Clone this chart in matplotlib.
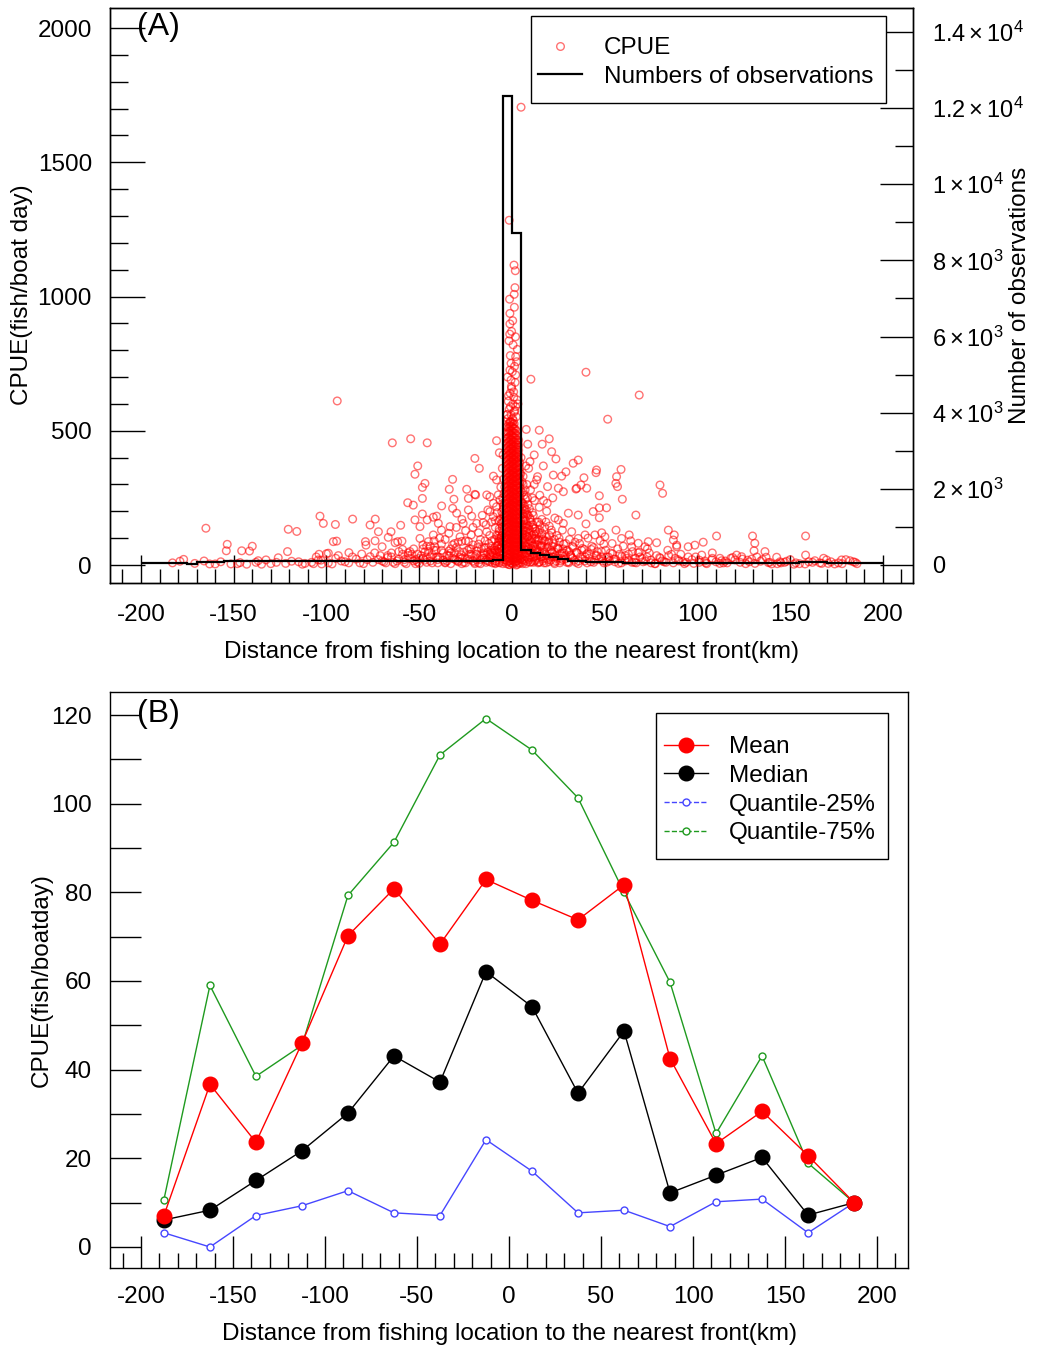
import numpy as np
import matplotlib
matplotlib.use('Agg')
import matplotlib.pyplot as plt
from matplotlib.lines import Line2D
from matplotlib.patches import Rectangle
from matplotlib.ticker import MultipleLocator, FixedLocator

plt.rcParams['font.family'] = ['Liberation Sans', 'DejaVu Sans']
plt.rcParams['mathtext.fontset'] = 'custom'
plt.rcParams['mathtext.rm'] = 'Liberation Sans'
plt.rcParams['mathtext.it'] = 'Liberation Sans:italic'
plt.rcParams['mathtext.bf'] = 'Liberation Sans:bold'
plt.rcParams['axes.unicode_minus'] = False

# ---------------- Panel A data ----------------
# scattered CPUE observations, left of the front
left_x = [-179, -177, -166, -165, -163, -160, -154, -153.5, -151.5, -146.6, -145.7, -143, -141.5, -140,
          -136.8, -132.6, -127, -126, -121, -120.6, -118.8, -116, -111.6, -105.5, -104.4, -104, -103.5,
          -102.6, -101.7, -100, -99, -96.3, -95.2, -94.5, -94.2, -93.6, -87.9, -85.9, -81, -79, -78.7,
          -76.5, -76.5, -73.8, -73.7, -72, -71, -70, -66.7, -65.2, -64.5, -63, -61.6, -60, -59.3, -56.2,
          -54.6, -53.2, -52.3, -52.3, -50.8, -49.6, -49.6, -48.3, -48.3, -48.3, -46.9, -45.7, -45.7,
          -45.1, -42.4, -42.4, -41.5, -40.6, -39.7, -37.9, -33.8, -33.4, -32, -32, -31.3, -29.8, -26.3,
          -24.4, -23.5, -23.5, -21.7, -20, -20, -19.6, -19, -17.6, -15.5, -13.6, -13.6, -11.9, -11.9,
          -10.1, -10, -8.3, -8.3, -8.3, -7.4, -6.8, -6.5]
left_y = [14, 21, 15, 137, 4, 4, 53, 77, 4, 9, 53, 3, 52, 70,
          16, 19, 10, 27, 50, 133, 14, 125, 6, 30, 19, 40, 182,
          4, 155, 42, 44, 87, 151, 89, 611, 35, 46, 171, 41, 87, 74,
          149, 31, 90, 171, 124, 35, 68, 103, 124, 455, 83, 87, 148, 89, 232,
          470, 223, 338, 168, 369, 143, 99, 289, 248, 190, 304, 455, 168,
          87, 178, 112, 68, 182, 155, 220, 282, 143, 319, 211, 245, 193, 155,
          282, 248, 205, 182, 397, 263, 261, 155, 360, 158, 124, 261, 199, 254,
          180, 331, 463, 317, 217, 261, 418, 242]

# low-CPUE cloud, left of the front
lowl_x = [-4.5, -4.5, -4.6, -4.4, -4.5, -4.7, -4.3, -5.5, -5.6, -5.4, -5.8, -5.5, -6.6, -6.8, -6.4, -6.9,
          -7.5, -7.8, -7.3, -8.6, -8.9, -9.5, -10.5, -11, -12, -13, -14.5, -15, -16.5, -18, -19, -21,
          -22.5, -24, -26, -27.5, -29, -31, -33, -35, -37, -39, -41, -43, -45, -47, -49, -51, -53, -55,
          -57, -59, -62, -65, -68, -72, -75, -80, -84, -88, -92, -97, -108, -113, -130, -135,
          -38, -36, -34, -30, -28, -27, -25, -22, -21, -18, -17, -16, -14, -13, -12, -11, -10, -9, -8,
          -7, -6, -5, -4.5, -44, -40, -33, -29, -25, -19, -15, -12, -9, -7, -56, -52, -48, -46, -42,
          -36, -31, -27, -23, -20, -17, -14, -11, -6, -5.2, -4.8]
lowl_y = [12, 45, 88, 130, 175, 220, 265, 25, 70, 110, 155, 198, 8, 50, 92, 135,
          30, 72, 110, 15, 55, 95, 35, 70, 12, 48, 90, 25, 60, 8, 40, 75,
          20, 55, 10, 38, 85, 22, 60, 15, 45, 100, 28, 8, 50, 18, 35, 12, 60, 25,
          5, 40, 15, 30, 8, 20, 10, 5, 22, 8, 15, 4, 10, 3, 5, 3,
          130, 95, 118, 140, 105, 170, 128, 112, 140, 120, 95, 185, 150, 205, 110, 160, 230, 140, 195,
          165, 290, 230, 320, 70, 30, 45, 15, 90, 20, 65, 40, 8, 60, 45, 20, 75, 30, 55,
          10, 80, 25, 60, 5, 35, 18, 48, 100, 360, 410]

# more low-CPUE observations (x, y) left of the front
wedge_left = [(-3.9, 20), (-4.0, 60), (-3.8, 100), (-4.1, 140), (-3.9, 185), (-4.0, 230), (-3.9, 290),
              (-4.9, 5), (-5.0, 40), (-4.8, 80), (-5.1, 120), (-4.9, 160), (-5.0, 250), (-6.0, 25),
              (-6.1, 65), (-5.9, 105), (-6.2, 170), (-7.1, 10), (-7.0, 48), (-7.2, 88), (-6.9, 125),
              (-8.2, 30), (-8.0, 70), (-8.3, 110), (-9.1, 15), (-9.3, 55), (-9.0, 165), (-10.6, 8),
              (-10.4, 45), (-11.8, 28), (-12.5, 80), (-13.9, 10), (-15.3, 38), (-17, 20), (-18.5, 65),
              (-20.3, 10), (-22, 40), (-23.5, 88), (-25.2, 25), (-27, 5), (-28.4, 50), (-30, 18),
              (-32, 75), (-34, 35), (-36, 8), (-38, 55), (-40, 20), (-42, 90), (-44, 30), (-46, 10),
              (-48, 60), (-50, 25), (-52, 5), (-54, 40), (-58, 20), (-61, 50), (-64, 10), (-67, 35),
              (-70, 15), (-74, 45), (-78, 20), (-82, 8), (-86, 30), (-90, 12), (-95, 25), (-99, 8),
              (-103, 18), (-107, 5), (-115, 12), (-122, 6), (-138, 10), (-148, 5), (-157, 12),
              (-171, 6), (-183, 8)]

band_left = [(-69, 12), (-67, 28), (-65, 45), (-63, 5), (-61, 22), (-59, 58), (-58, 10), (-56, 35),
             (-55, 50), (-53, 15), (-51, 40), (-50, 6), (-48, 25), (-47, 48), (-46, 70), (-44, 15),
             (-43, 38), (-41, 55), (-40, 8), (-39, 28), (-38, 78), (-37, 18), (-35, 35), (-34, 52),
             (-33, 5), (-32, 25), (-31, 45), (-30, 65), (-29, 12), (-28, 30), (-27, 88), (-26, 48),
             (-25, 8), (-24, 22), (-23, 40), (-22, 60), (-21, 15), (-20, 32), (-19, 52), (-18, 78),
             (-17, 5), (-16, 25), (-15, 45), (-14, 65), (-13, 15), (-12, 35), (-11.5, 55), (-11, 90),
             (-10.5, 20), (-10, 42), (-9.5, 62), (-9, 5), (-8.5, 28), (-8, 50), (-7.5, 75), (-7, 100),
             (-6.5, 18), (-6, 40), (-5.8, 60), (-5.5, 85), (-5.2, 140), (-4.9, 190), (-4.6, 210),
             (-4.3, 100), (-4.2, 165)]

# dense column of observations right at the front (-4..4.5 km)
core_x = [-3.0, -2.4, -1.8, -1.2, -0.6, 0.0, 0.6, 1.2, 1.8, 2.4, 3.0, 3.6, 4.2]
core_y = [
    [5, 18, 31, 47, 60, 74, 90, 103, 118, 134, 150, 163, 179, 194, 210, 226, 241, 255, 272, 288, 303,
     318, 336, 352, 368, 385, 401, 417, 434, 452, 470, 488],
    [12, 26, 39, 53, 66, 80, 96, 111, 124, 139, 153, 168, 182, 198, 213, 229, 244, 260, 276, 292, 307,
     323, 339, 356, 372, 389, 405, 421, 438, 455, 472, 497, 515],
    [2, 14, 27, 41, 55, 69, 82, 97, 111, 126, 141, 156, 171, 186, 201, 216, 232, 247, 263, 279, 295,
     311, 327, 343, 360, 376, 392, 409, 425, 441, 458, 475, 492, 510, 527],
    [1, 15, 29, 42, 57, 71, 86, 101, 116, 131, 146, 160, 176, 191, 207, 222, 238, 253, 269, 285, 301,
     317, 332, 349, 365, 381, 397, 414, 430, 446, 463, 480, 498, 514, 530],
    [8, 22, 36, 50, 64, 79, 93, 108, 122, 137, 152, 167, 182, 197, 213, 228, 244, 259, 275, 291, 306,
     322, 338, 354, 370, 386, 402, 418, 435, 451, 467, 484, 500, 517, 533],
    [6, 19, 33, 47, 61, 75, 89, 104, 118, 133, 148, 163, 178, 193, 209, 224, 240, 256, 271, 287, 303,
     318, 334, 350, 366, 382, 398, 415, 431, 447, 464, 481, 498, 515, 531],
    [4, 17, 30, 44, 58, 72, 86, 100, 115, 129, 144, 159, 174, 189, 205, 220, 236, 251, 267, 283, 298,
     314, 330, 346, 362, 378, 394, 410, 427, 443, 460, 476, 493, 511, 524],
    [13, 27, 41, 55, 70, 84, 98, 113, 128, 143, 158, 173, 188, 203, 219, 234, 250, 266, 281, 297, 313,
     329, 345, 361, 377, 393, 409, 426, 442, 458, 475, 492, 508, 526],
    [10, 24, 38, 52, 67, 81, 95, 110, 125, 140, 155, 170, 185, 200, 216, 232, 248, 263, 279, 295, 311,
     327, 343, 359, 375, 392, 408, 424, 441, 457, 474, 490, 506],
    [0, 14, 28, 42, 56, 70, 84, 99, 113, 128, 143, 158, 173, 188, 203, 219, 235, 250, 266, 282, 298,
     314, 331, 347, 364, 380, 397, 413, 430, 447, 464, 482, 499],
    [3, 16, 29, 43, 57, 71, 85, 99, 114, 129, 144, 159, 175, 190, 206, 222, 238, 254, 270, 286, 303,
     319, 336, 353, 370, 387, 404, 421, 439, 456],
    [9, 23, 37, 51, 66, 81, 96, 111, 126, 142, 157, 173, 189, 205, 221, 237, 254, 271, 287, 304, 321,
     338, 356, 374, 392, 410, 428, 446, 465],
    [6, 20, 34, 48, 62, 77, 92, 107, 122, 138, 154, 170, 186, 202, 219, 236, 253, 270, 288, 306, 324,
     342, 361, 380],
]

# high CPUE values at the front
top_x = [4.9, -1.5, 1.1, 1.8, 1.6, 1.2, -1.3, -1.1, -1.1, -0.2, -1.6, 2.9, 2.0, -0.5, 2.5, -1.1, 2.0,
         -0.5, -0.2, 10.2, -1.0, 1.0, -2.0, 0.5, 2.0, -1.5, 1.2, -0.5, 2.3, -2.2, 0.8, -1.0, 3.2, -2.6,
         0.3, -2.7, 1.5, -0.8, 2.8, -1.9, 0.9, -0.3, 1.7, -2.4, 0.2, 1.4, -0.9, 0.6, 1.9, -1.2, 0.4, 1.3]
top_y = [1705, 1284, 1117, 1096, 1033, 1008, 990, 937, 898, 870, 835, 803, 776, 751, 757, 726, 708,
         689, 658, 692, 640, 625, 610, 600, 590, 580, 570, 560, 552, 545, 538, 532, 600, 560,
         545, 560, 575, 590, 615, 630, 645, 665, 680, 700, 720, 740, 780, 820, 850, 860, 910, 960]

# scattered CPUE observations, right of the front
right_x = [7.4, 7.7, 8.5, 9.7, 12, 13.3, 13.8, 14.7, 16.3, 16.9, 19.2, 20.1, 21.4, 22.3, 23.7, 25, 25,
           26.8, 27.7, 27.7, 29.1, 30.4, 32.2, 33, 34.5, 34.9, 35.7, 35.7, 35.7, 37.2, 38.8, 39.4, 39.9,
           39.9, 40.3, 43.8, 44.7, 45.3, 45.6, 47.1, 47.1, 47.1, 48.4, 50.1, 51, 51.6, 56, 56.1, 56.4,
           56.9, 58.8, 59.1, 59.5, 63.2, 64.5, 66.8, 68.1, 68.6, 71.7, 73.5, 78, 79.8, 81.2, 84.3, 87,
           87.5, 88.8, 88.8, 95, 98.6, 102.3, 103.1, 107.7, 110.3, 112.1, 113, 120.2, 121.1, 123.8,
           124.2, 129.2, 129.7, 130.5, 130.9, 136.4, 137, 138.2, 142.7, 144.5, 158.3, 158.3, 163.3,
           169.6, 170.5, 177.7, 182.2, 6, 8, 10, 11, 12, 15, 17, 19, 22, 9]
right_y = [369, 505, 450, 385, 410, 317, 329, 502, 450, 369, 292, 470, 422, 335, 395, 286, 168,
           331, 273, 155, 347, 193, 124, 379, 283, 286, 391, 186, 99, 298, 325, 112, 718,
           153, 286, 199, 112, 344, 354, 258, 213, 176, 120, 105, 213, 543, 304, 130, 329,
           292, 356, 99, 245, 112, 68, 186, 81, 633, 68, 87, 83, 298, 267, 130, 93,
           112, 74, 68, 68, 74, 37, 85, 19, 108, 25, 16, 19, 37, 31,
           22, 22, 108, 53, 81, 50, 29, 9, 29, 12, 108, 37, 16,
           19, 6, 19, 16, 330, 300, 280, 250, 300, 260, 240, 230, 250, 360]

# low-CPUE cloud, right of the front
lowr_x = [5.2, 5.3, 5.1, 5.4, 5.2, 5.5, 5.3, 5.6, 5.4, 6.3, 6.5, 6.2, 6.6, 6.4, 6.7, 6.5, 7.5, 7.6, 7.4,
          7.8, 7.5, 7.7, 7.4, 8.6, 8.8, 8.5, 8.9, 8.7, 8.6, 9.8, 9.7, 9.9, 9.6, 9.8, 10.9, 11.1, 10.8,
          11.2, 11, 12.2, 12.3, 12.1, 12.4, 12.2, 13.4, 13.6, 13.3, 13.5, 14.7, 14.8, 14.6, 14.9, 14.7,
          16, 16.2, 15.9, 16.1, 17.3, 17.5, 17.2, 17.6, 18.6, 18.8, 18.5, 18.7, 20, 20.2, 19.9, 20.1,
          21.5, 21.7, 21.4, 22.8, 23, 22.9, 23.1, 24.3, 24.5, 24.2, 25.8, 26, 25.7, 27.3, 27.5, 27.2,
          28.8, 29, 30.5, 30.7, 31, 32.5, 33, 34.5, 35, 36.5, 38, 39, 40.5, 41.5, 43, 44.5, 46, 48,
          49.5, 51, 53, 55, 57, 59, 61, 63, 65, 67, 69, 72, 74, 77, 80, 83, 86, 90, 93, 97, 101, 105,
          110, 116, 126, 134, 140, 147, 152, 166, 174, 186]
lowr_y = [10, 40, 75, 110, 150, 190, 230, 270, 310, 20, 60, 100, 140, 180, 220, 260, 5, 45, 85,
          125, 165, 205, 245, 25, 65, 105, 145, 185, 225, 10, 50, 90, 130, 170, 30, 70, 110,
          150, 195, 15, 55, 95, 135, 240, 35, 75, 115, 160, 10, 50, 90, 130, 215,
          30, 70, 110, 170, 8, 48, 88, 140, 25, 65, 105, 200, 12, 50, 90, 145,
          30, 70, 120, 10, 48, 95, 175, 25, 65, 110, 8, 42, 85, 20, 60, 130,
          35, 80, 12, 50, 95, 25, 65, 10, 45, 80, 22, 58, 8, 40, 70, 18, 50, 30,
          78, 10, 45, 22, 60, 8, 35, 18, 50, 8, 30, 15, 45, 5, 25, 10, 40, 15, 5, 20, 10, 5,
          12, 8, 5, 14, 4, 10, 3, 8, 4, 5]

# more low-CPUE observations (x, y) right of the front
wedge_right = [(4.8, 25), (4.9, 60), (5.0, 95), (4.7, 130), (4.8, 165), (4.9, 200), (5.0, 235), (4.8, 275),
               (4.7, 340), (4.9, 400), (5.8, 5), (5.9, 42), (6.0, 78), (5.7, 115), (5.8, 150), (6.1, 190),
               (5.9, 230), (6.0, 300), (7.0, 15), (7.1, 55), (6.9, 92), (7.2, 128), (7.0, 170), (6.8, 210),
               (7.1, 280), (8.1, 30), (8.0, 68), (8.2, 105), (7.9, 140), (8.1, 190), (8.3, 250), (9.2, 20),
               (9.1, 58), (9.3, 98), (9.0, 135), (9.4, 210), (10.3, 12), (10.2, 48), (10.5, 85), (10.1, 160),
               (11.6, 30), (11.4, 70), (11.7, 115), (11.5, 185), (12.8, 18), (12.9, 60), (12.7, 100),
               (14.1, 8), (14.0, 45), (14.2, 120), (15.3, 30), (15.5, 70), (15.2, 150), (16.8, 15),
               (16.6, 95), (18.1, 40), (18.3, 160), (19.5, 20), (19.7, 85), (21, 55), (21.2, 130),
               (22.4, 30), (23.8, 15), (25.1, 60), (26.5, 25), (28, 45), (29.6, 10), (31.5, 35),
               (32, 30), (34, 85), (36, 15), (37.5, 55), (39.5, 30), (41, 100), (42.5, 12), (44, 65),
               (46, 35), (47.5, 90), (49, 15), (50.5, 55), (52, 30), (54, 80), (55.5, 12), (58, 40),
               (60, 70), (62, 25), (64, 90), (66, 10), (68, 45), (70, 25), (73, 60), (75, 8), (78, 35),
               (81, 15), (84, 55), (88, 25), (91, 40), (94, 10), (99, 30), (104, 15), (108, 45), (114, 8),
               (118, 25), (128, 12), (132, 30), (145, 8), (150, 20), (155, 5), (160, 12), (168, 25),
               (176, 8), (180, 20), (184, 12)]

band_right = [(5.5, 20), (5.7, 55), (5.9, 95), (6.2, 130), (6.5, 165), (6.8, 200), (7.1, 35), (7.4, 70),
              (7.7, 110), (8.0, 150), (8.4, 12), (8.7, 45), (9.0, 80), (9.3, 120), (9.7, 175), (10.0, 28),
              (10.4, 62), (10.8, 100), (11.2, 140), (11.6, 10), (12.0, 42), (12.4, 78), (12.8, 125),
              (13.2, 25), (13.6, 58), (14.0, 95), (14.4, 160), (14.8, 12), (15.2, 40), (15.7, 75),
              (16.2, 118), (16.7, 22), (17.2, 55), (17.8, 90), (18.4, 8), (19.0, 35), (19.6, 68),
              (20.2, 110), (20.9, 18), (21.6, 48), (22.3, 80), (23.0, 5), (23.8, 32), (24.6, 62),
              (25.4, 100), (26.2, 15), (27.0, 45), (27.9, 78), (28.8, 22), (29.7, 55), (30.6, 8),
              (31.6, 38), (32.6, 70), (33.6, 18), (34.7, 48), (35.8, 5), (36.9, 30), (38.0, 62),
              (39.2, 15), (40.4, 42), (41.6, 25), (42.8, 58), (44.1, 10), (45.4, 35), (46.8, 20),
              (48.2, 50), (49.6, 8), (51.1, 30), (52.6, 15), (54.2, 42), (55.8, 22), (57.5, 6),
              (59.2, 32), (61, 15), (62.8, 40), (64.7, 10), (66.6, 25), (68.6, 48), (70.7, 12),
              (72.8, 30), (75, 18), (77.3, 5), (79.6, 28), (82, 12), (84.5, 35), (87, 8), (89.6, 20),
              (92.3, 12), (95, 30), (98, 6), (101, 18), (104.5, 8), (108, 25), (112, 6), (115, 15),
              (119, 28), (123, 10), (127, 18), (131, 6), (135, 20), (139, 10), (143, 5), (148, 14),
              (153, 8), (158, 4), (162, 10), (167, 6), (172, 12), (178, 5), (185, 10)]

# histogram of number of observations (5-km bins, -200..200 km)
hist_edges = np.arange(-200, 201, 5)
hist_counts = [60, 60, 60, 60, 60, 35, 80, 80, 80,
               95, 95, 95, 95, 95, 95, 95, 95, 95, 95, 95, 95,
               100, 100, 100, 100, 100, 100, 100, 105, 105, 105, 105, 105,
               115, 115, 115, 115, 115, 130, 12320,
               8720, 394, 323, 263, 202, 149, 113, 113,
               87, 87, 87, 87,
               62, 62, 62, 62, 62, 62, 62, 62, 62, 62, 62, 62, 62, 62, 62, 62, 62,
               40, 40, 80, 80, 80, 61, 61, 61, 44, 44, 44]

# ---------------- Panel B data ----------------
bin_centers = [-187.5, -162.5, -137.5, -112.5, -87.5, -62.5, -37.5, -12.5,
               12.5, 37.5, 62.5, 87.5, 112.5, 137.5, 162.5, 187.5]
cpue_mean = [7.1, 36.7, 23.6, 46.0, 70.2, 80.8, 68.3, 82.9, 78.2, 73.8, 81.7, 42.5, 23.3, 30.6, 20.6, 10.0]
cpue_median = [6.1, 8.3, 15.0, 21.7, 30.2, 43.1, 37.2, 62.1, 54.2, 34.7, 48.7, 12.2, 16.2, 20.2, 7.2, 10.0]
cpue_q25 = [3.2, 0.0, 7.1, 9.3, 12.7, 7.7, 7.1, 24.2, 17.1, 7.7, 8.3, 4.6, 10.2, 10.8, 3.2, 10.0]
cpue_q75 = [10.7, 59.0, 38.5, 45.5, 79.3, 91.3, 111.0, 119.2, 112.1, 101.3, 80.0, 59.7, 25.6, 43.1, 18.9, 10.0]

# ---------------- Figure ----------------
W, H = 1037, 1353
fig = plt.figure(figsize=(W / 100, H / 100), dpi=100)

def fr(l, t, r, b):
    return [l / W, 1 - b / H, (r - l) / W, (b - t) / H]

def fp(x, y):
    return (x / W, 1 - y / H)

TICK_FS = 17.5
LAB_FS = 17.5
LEG_FS = 17.5
pt_red = (1, 0, 0, 0.55)

# ---- Panel A ----
ax = fig.add_axes(fr(110, 8, 913, 583))
ax2 = ax.twinx()

sx = list(left_x) + list(lowl_x) + list(top_x) + list(right_x) + list(lowr_x)
sy = list(left_y) + list(lowl_y) + list(top_y) + list(right_y) + list(lowr_y)
for px, py in wedge_left + band_left + wedge_right + band_right:
    sx.append(px)
    sy.append(py)
for cx, cys in zip(core_x, core_y):
    sx += [cx] * len(cys)
    sy += list(cys)
ax.scatter(sx, sy, s=30, facecolors='none', edgecolors=[pt_red], linewidths=1.0, zorder=2)

ax2.stairs(hist_counts, hist_edges, color='black', linewidth=1.6, baseline=None)

ax.set_xlim(-216.7, 216.2)
ax.set_ylim(-67, 2074.5)
ax2.set_ylim(-473, 14630)

ax.xaxis.set_major_locator(FixedLocator(range(-200, 201, 50)))
ax.xaxis.set_minor_locator(MultipleLocator(10))
ax.yaxis.set_major_locator(FixedLocator(range(0, 2001, 500)))
ax.yaxis.set_minor_locator(MultipleLocator(100))
ax.tick_params(axis='x', which='major', direction='in', length=20, width=1, labelsize=TICK_FS, pad=15)
ax.tick_params(axis='x', which='minor', direction='in', length=10, width=1)
ax.tick_params(axis='y', which='major', direction='in', length=25, width=1, labelsize=TICK_FS, pad=13)
ax.tick_params(axis='y', which='minor', direction='in', length=13, width=1)

r_ticks = list(range(0, 14001, 2000))
r_labels = ['0'] + [r'$2\times10^{3}$', r'$4\times10^{3}$', r'$6\times10^{3}$', r'$8\times10^{3}$',
                    r'$1\times10^{4}$', r'$1.2\times10^{4}$', r'$1.4\times10^{4}$']
ax2.yaxis.set_major_locator(FixedLocator(r_ticks))
ax2.set_yticklabels(r_labels)
ax2.yaxis.set_minor_locator(MultipleLocator(1000))
ax2.tick_params(axis='y', which='major', direction='in', length=24, width=1, labelsize=17, pad=14)
ax2.tick_params(axis='y', which='minor', direction='in', length=13, width=1)

for a in (ax, ax2):
    for s in a.spines.values():
        s.set_linewidth(1.0)
        s.set_color('black')

ax.set_xlabel('Distance from fishing location to the nearest front(km)', fontsize=LAB_FS)
ax.xaxis.set_label_coords(0.5006, -0.12)
ax.xaxis.label.set_verticalalignment('center')
ax.set_ylabel('CPUE(fish/boat day)', fontsize=LAB_FS)
ax.yaxis.set_label_coords(-0.1096, 0.5009)
ax.yaxis.label.set_verticalalignment('center')
ax2.set_ylabel('Number of observations', fontsize=LAB_FS, rotation=90)
ax2.yaxis.set_label_coords(1.1333, 0.5)
ax2.yaxis.label.set_verticalalignment('center')

ax.text(0.0336, 0.967, '(A)', transform=ax.transAxes, fontsize=23, ha='left', va='center')

# legend A: frame drawn separately to match the reference box
ax2.add_patch(Rectangle(fp(531, 103), (886 - 531) / W, (103 - 16) / H, transform=fig.transFigure,
                        facecolor='white', edgecolor='black', linewidth=1.0, zorder=8, clip_on=False))
hA = [Line2D([], [], ls='none', marker='o', ms=5.5, mfc='none', mec=pt_red, mew=1.0),
      Line2D([], [], color='black', lw=1.6)]
legA = ax2.legend(hA, ['CPUE', 'Numbers of observations'], loc='upper left',
                  bbox_to_anchor=fp(538, 37), bbox_transform=fig.transFigure, borderaxespad=0,
                  borderpad=0, fontsize=LEG_FS, handlelength=1.81, handletextpad=0.9,
                  labelspacing=0.28, frameon=False)
legA.set_zorder(9)

# ---- Panel B ----
bx = fig.add_axes(fr(110, 692, 908, 1268))
blue = '#4646ff'
green = '#1f9a1f'
bx.plot(bin_centers, cpue_q25, color=blue, lw=1.0, marker='o', ms=5, mfc='white', mec=blue, mew=1.0, zorder=2)
bx.plot(bin_centers, cpue_q75, color=green, lw=1.0, marker='o', ms=5, mfc='white', mec=green, mew=1.0, zorder=2)
bx.plot(bin_centers, cpue_median, color='black', lw=1.0, marker='o', ms=10.5, mfc='black', mec='black', zorder=3)
bx.plot(bin_centers, cpue_mean, color='red', lw=1.0, marker='o', ms=10.5, mfc='red', mec='red', zorder=4)

bx.set_xlim(-216.8, 216.8)
bx.set_ylim(-4.74, 125.19)
bx.xaxis.set_major_locator(FixedLocator(range(-200, 201, 50)))
bx.xaxis.set_minor_locator(MultipleLocator(10))
bx.yaxis.set_major_locator(FixedLocator(range(0, 121, 20)))
bx.yaxis.set_minor_locator(MultipleLocator(10))
bx.tick_params(axis='x', which='major', direction='in', length=23, width=1, labelsize=TICK_FS, pad=13)
bx.tick_params(axis='x', which='minor', direction='in', length=11, width=1)
bx.tick_params(axis='y', which='both', direction='in', length=22, width=1, labelsize=TICK_FS, pad=13)
for s in bx.spines.values():
    s.set_linewidth(1.0)
    s.set_color('black')

bx.set_xlabel('Distance from fishing location to the nearest front(km)', fontsize=LAB_FS)
bx.xaxis.set_label_coords(0.5, -0.1146)
bx.xaxis.label.set_verticalalignment('center')
bx.set_ylabel('CPUE(fish/boatday)', fontsize=LAB_FS)
bx.yaxis.set_label_coords(-0.0852, 0.5)
bx.yaxis.label.set_verticalalignment('center')
bx.text(0.0338, 0.962, '(B)', transform=bx.transAxes, fontsize=23, ha='left', va='center')

bx.add_patch(Rectangle(fp(656, 859), (888 - 656) / W, (859 - 713) / H, transform=fig.transFigure,
                       facecolor='white', edgecolor='black', linewidth=1.0, zorder=8, clip_on=False))
hB = [Line2D([], [], color='red', lw=1.0, marker='o', ms=10.5, mfc='red', mec='red'),
      Line2D([], [], color='black', lw=1.0, marker='o', ms=10.5, mfc='black', mec='black'),
      Line2D([], [], color=blue, lw=1.0, ls='--', marker='o', ms=5, mfc='white', mec=blue),
      Line2D([], [], color=green, lw=1.0, ls='--', marker='o', ms=5, mfc='white', mec=green)]
legB = bx.legend(hB, ['Mean', 'Median', 'Quantile-25%', 'Quantile-75%'], loc='upper left',
                 bbox_to_anchor=fp(664, 736), bbox_transform=fig.transFigure, borderaxespad=0,
                 borderpad=0, fontsize=LEG_FS, handlelength=1.81, handletextpad=0.86,
                 labelspacing=0.28, frameon=False)
legB.set_zorder(9)

fig.savefig('out.png', dpi=100)
